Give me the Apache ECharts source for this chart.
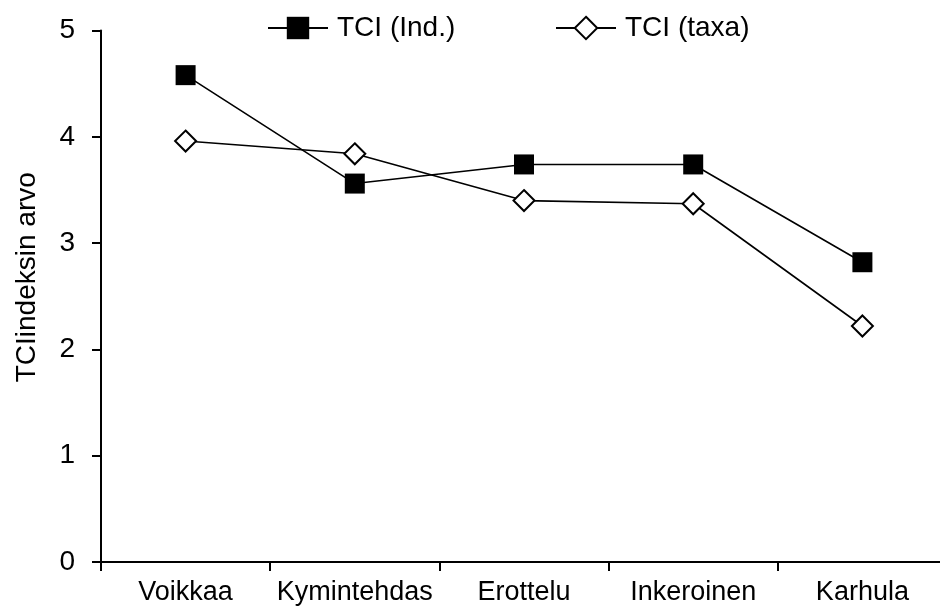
<!DOCTYPE html>
<html>
<head>
<meta charset="utf-8">
<script src="https://cdn.jsdelivr.net/npm/echarts@6/dist/echarts.min.js"></script>
<style>html,body{margin:0;padding:0;background:#fff;overflow:hidden}#c{width:947px;height:612px}</style>
</head>
<body>
<div id="c"></div>
<script>
var categories = ['Voikkaa', 'Kymintehdas', 'Erottelu', 'Inkeroinen', 'Karhula'];
var tciInd = [4.58, 3.56, 3.74, 3.74, 2.82];
var tciTaxa = [3.96, 3.84, 3.40, 3.37, 2.22];
var seriesNames = ['TCI (Ind.)', 'TCI (taxa)'];
var yAxisName = 'TCIindeksin arvo';

var FONT = 'Liberation Sans, Arial, sans-serif';
var chart = echarts.init(document.getElementById('c'), null, {renderer: 'canvas'});
chart.setOption({
  animation: false,
  backgroundColor: '#fff',
  grid: {left: 101, top: 30.5, right: 0, bottom: 50, containLabel: false},
  legend: [
    {data: [seriesNames[0]], left: 267, top: 14, itemWidth: 60, itemHeight: 28, padding: 0,
     textStyle: {fontFamily: FONT, fontSize: 28, color: '#000', padding: [0, 0, 0, 4]}, itemGap: 0},
    {data: [seriesNames[1]], left: 555, top: 14, itemWidth: 60, itemHeight: 28, padding: 0,
     textStyle: {fontFamily: FONT, fontSize: 28, color: '#000', padding: [0, 0, 0, 4]}, itemGap: 0}
  ],
  xAxis: {
    type: 'category', data: categories, boundaryGap: true,
    axisLine: {lineStyle: {color: '#000', width: 2}},
    axisTick: {show: true, length: 9, lineStyle: {color: '#000', width: 2}},
    axisLabel: {fontFamily: FONT, fontSize: 27, color: '#000', margin: 17, interval: 0},
    splitLine: {show: false}
  },
  yAxis: {
    type: 'value', min: 0, max: 5, interval: 1,
    name: yAxisName, nameLocation: 'middle', nameGap: 60, nameRotate: 90,
    nameTextStyle: {fontFamily: FONT, fontSize: 28, color: '#000', padding: [0, 0, 0, 38]},
    axisLine: {show: true, lineStyle: {color: '#000', width: 2}},
    axisTick: {show: true, length: 9, lineStyle: {color: '#000', width: 2}},
    axisLabel: {fontFamily: FONT, fontSize: 28, color: '#000', margin: 26},
    splitLine: {show: false}
  },
  series: [
    {name: seriesNames[0], type: 'line', data: tciInd, symbol: 'rect', symbolSize: 20,
     showAllSymbol: true,
     lineStyle: {color: '#000', width: 1.6}, itemStyle: {color: '#000', borderColor: '#000', borderWidth: 0}},
    {name: seriesNames[1], type: 'line', data: tciTaxa, symbol: 'diamond', symbolSize: 21,
     showAllSymbol: true,
     lineStyle: {color: '#000', width: 1.6}, itemStyle: {color: '#fff', borderColor: '#000', borderWidth: 2}}
  ]
});
</script>
</body>
</html>
